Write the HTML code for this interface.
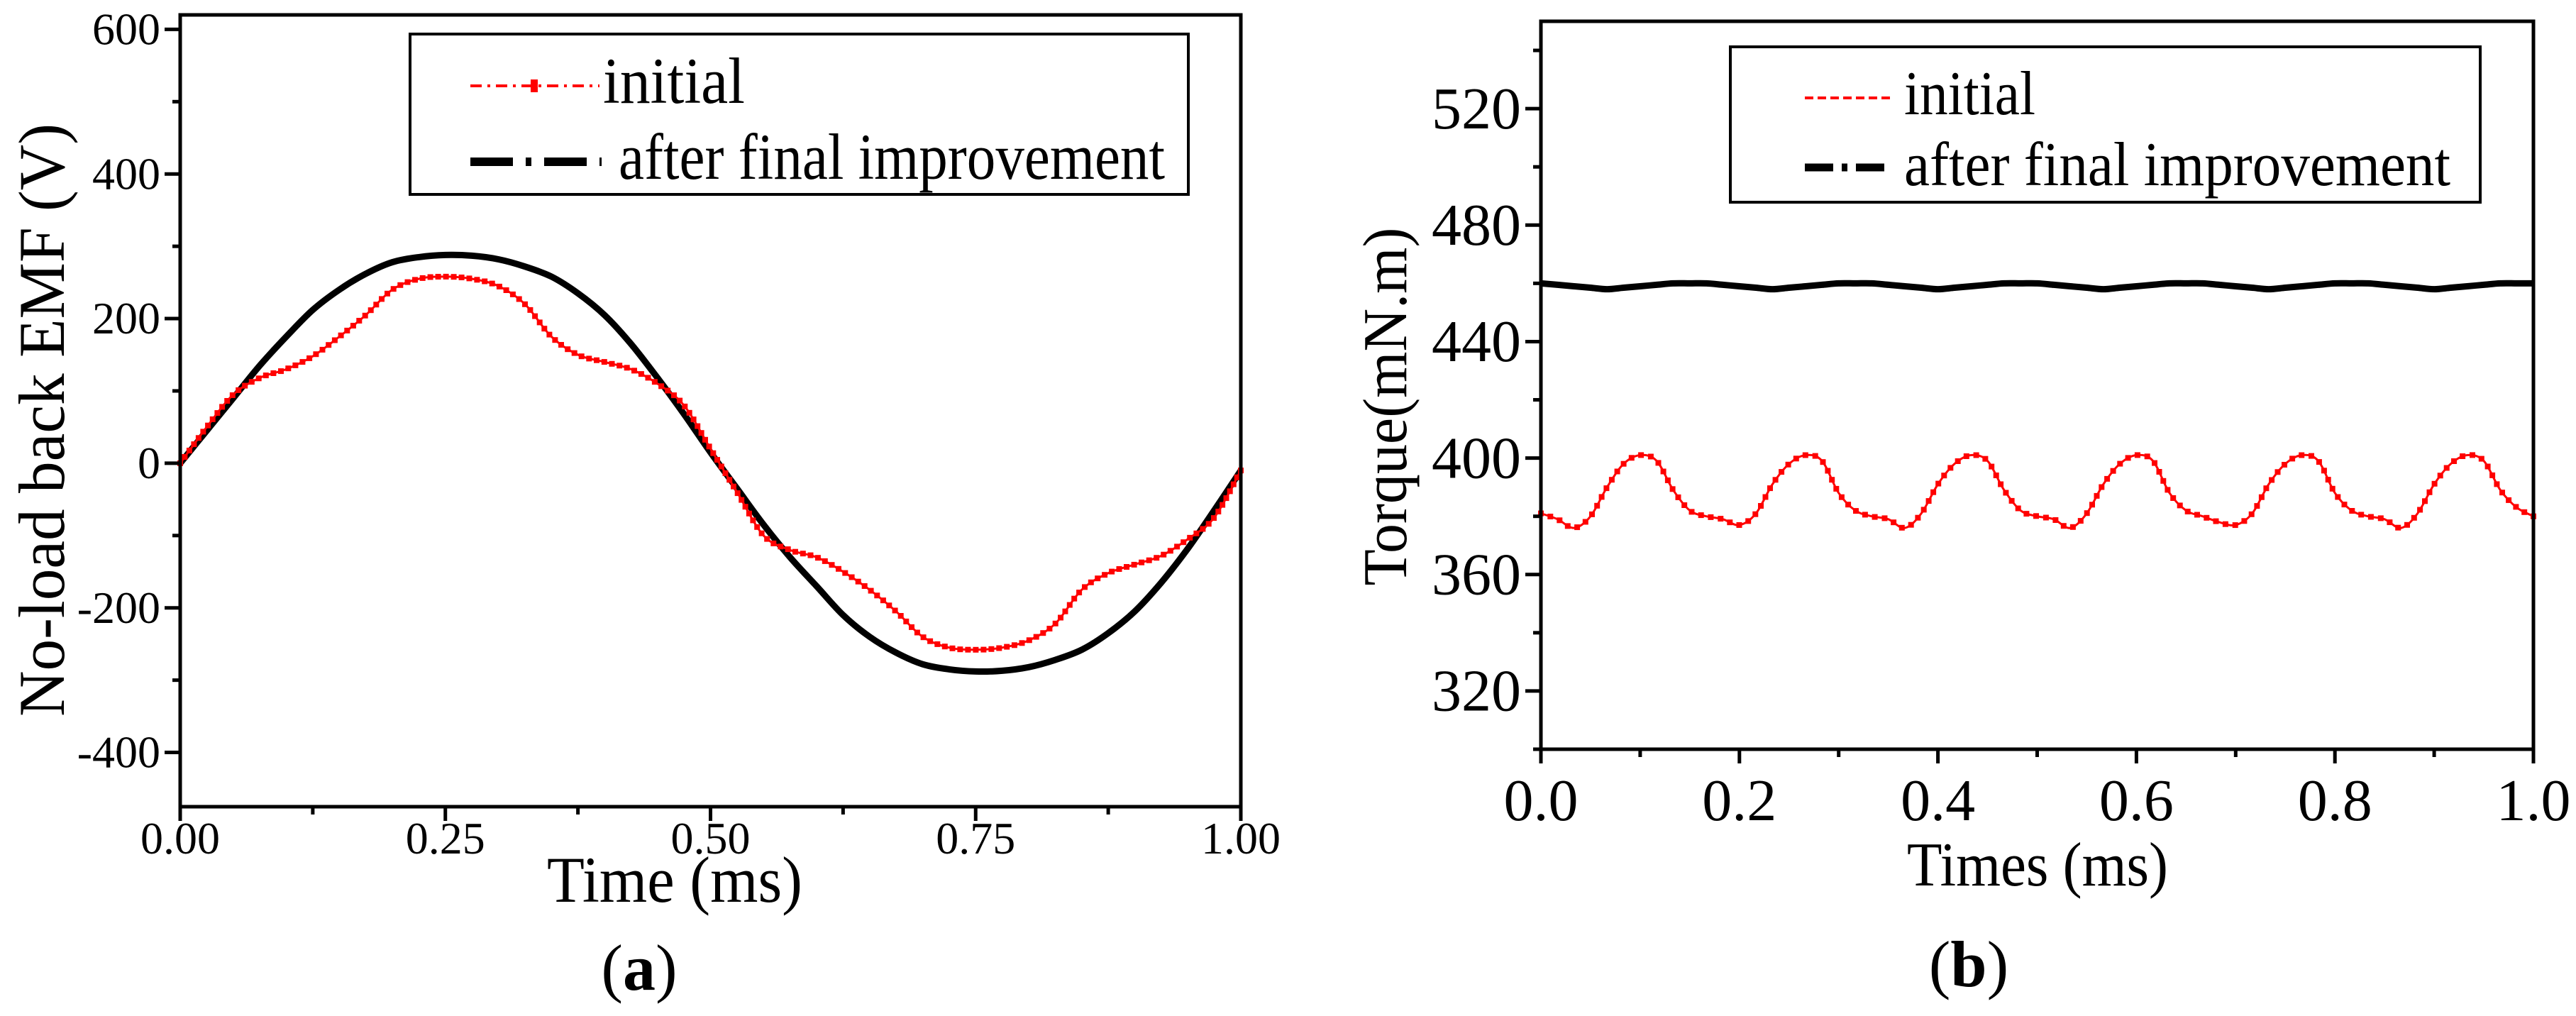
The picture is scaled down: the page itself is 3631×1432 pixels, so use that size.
<!DOCTYPE html>
<html><head><meta charset="utf-8"><style>
html,body{margin:0;padding:0;background:#fff}
svg{display:block}
svg text{font-family:"Liberation Serif","Times New Roman",serif;fill:#000}
</style></head><body>
<svg id="fig" width="3631" height="1432" viewBox="0 0 3631 1432" xmlns="http://www.w3.org/2000/svg" font-family="Liberation Serif, serif">
<g id="ga"></g>
<g id="gb"></g>
</svg>
<script>
// ---- Chart (a) data ----
const aTimes = [0,0.025,0.05,0.075,0.1,0.125,0.15,0.175,0.2,0.225,0.25,0.275,0.3,0.325,0.35,0.375,0.4,0.425,0.45,0.475,0.5,0.525,0.55,0.575,0.6,0.625,0.65,0.675,0.7,0.725,0.75,0.775,0.8,0.825,0.85,0.875,0.9,0.925,0.95,0.975,1.0];
const aInitial = [0,50,95,118,130,148,175,205,240,255,258,255,245,220,175,150,140,130,110,80,20,-40,-100,-120,-130,-150,-175,-205,-240,-255,-258,-255,-245,-222,-175,-152,-140,-128,-105,-75,-10];
const aImproved = [0,45,90,135,175,212,240,262,278,285,288,287,282,272,258,235,205,165,118,68,15,-35,-85,-130,-170,-210,-240,-262,-278,-285,-288,-287,-282,-272,-258,-235,-205,-165,-118,-65,-10];
const aXTicks = [0,0.25,0.5,0.75,1.0];
const aXLabels = ["0.00","0.25","0.50","0.75","1.00"];
const aYTicks = [-400,-200,0,200,400,600];
const aYLabels = ["-400","-200","0","200","400","600"];
// ---- Chart (b) data ----
const bTimes = [0,0.0167,0.0333,0.05,0.0667,0.0833,0.1,0.1167,0.1333,0.15,0.1667,0.1833,0.2,0.2167,0.2333,0.25,0.2667,0.2833,0.3,0.3167,0.3333,0.35,0.3667,0.3833,0.4,0.4167,0.4333,0.45,0.4667,0.4833,0.5,0.5167,0.5333,0.55,0.5667,0.5833,0.6,0.6167,0.6333,0.65,0.6667,0.6833,0.7,0.7167,0.7333,0.75,0.7667,0.7833,0.8,0.8167,0.8333,0.85,0.8667,0.8833,0.9,0.9167,0.9333,0.95,0.9667,0.9833,1.0];
const bInitial = [381,379,376,380,390,398,401,399,389,382,380,379,377,381,391,398,401,399,388,382,380,379,376,381,391,398,401,399,389,382,380,379,376,381,391,398,401,399,388,382,380,378,377,381,391,398,401,399,388,382,380,379,376,381,391,398,401,399,389,383,380];
const bImproved = [460,459.5,459,458.5,458,458.5,459,459.5,460,460,460,459.5,459,458.5,458,458.5,459,459.5,460,460,460,459.5,459,458.5,458,458.5,459,459.5,460,460,460,459.5,459,458.5,458,458.5,459,459.5,460,460,460,459.5,459,458.5,458,458.5,459,459.5,460,460,460,459.5,459,458.5,458,458.5,459,459.5,460,460,460];
const bXTicks = [0,0.2,0.4,0.6,0.8,1.0];
const bXLabels = ["0.0","0.2","0.4","0.6","0.8","1.0"];
const bYTicks = [320,360,400,440,480,520];
const bYLabels = ["320","360","400","440","480","520"];

const NS="http://www.w3.org/2000/svg";
const FF="Liberation Serif, Times New Roman, serif";
function mk(parent,tag,attrs,txt){const e=document.createElementNS(NS,tag);for(const k in attrs)e.setAttribute(k,attrs[k]);if(txt!==undefined)e.textContent=txt;parent.appendChild(e);return e;}
function smoothPath(pts){
  let d="M"+pts[0][0].toFixed(1)+","+pts[0][1].toFixed(1);
  for(let i=0;i<pts.length-1;i++){
    const p0=pts[Math.max(0,i-1)],p1=pts[i],p2=pts[i+1],p3=pts[Math.min(pts.length-1,i+2)];
    const c1x=p1[0]+(p2[0]-p0[0])/6,c1y=p1[1]+(p2[1]-p0[1])/6,c2x=p2[0]-(p3[0]-p1[0])/6,c2y=p2[1]-(p3[1]-p1[1])/6;
    d+=" C"+c1x.toFixed(1)+","+c1y.toFixed(1)+" "+c2x.toFixed(1)+","+c2y.toFixed(1)+" "+p2[0].toFixed(1)+","+p2[1].toFixed(1);
  }
  return d;
}

function drawChart(g,cfg){
  const X=v=>cfg.L+(v-cfg.x0)/(cfg.x1-cfg.x0)*(cfg.R-cfg.L);
  const Y=v=>cfg.B-(v-cfg.y0)/(cfg.y1-cfg.y0)*(cfg.B-cfg.T);
  const redPts=cfg.t.map((t,i)=>[X(t),Y(cfg.red[i])]);
  const blkPts=cfg.t2.map((t,i)=>[X(t),Y(cfg.black[i])]);
  const bl=mk(g,"path",{d:smoothPath(blkPts),fill:"none",stroke:"#000","stroke-width":9,"stroke-linejoin":"round"});
  
  
  const rl=mk(g,"path",{d:smoothPath(redPts),fill:"none",stroke:"#f00","stroke-width":3});
  
  
  const mg=mk(g,"g",{fill:"#f00"});
  
  
  const len=rl.getTotalLength(); const n=Math.round(len/cfg.mstep);
  for(let i=0;i<=n;i++){const p=rl.getPointAtLength(len*i/n);
    const m=mk(mg,"rect",{x:(p.x-4).toFixed(1),y:(p.y-4).toFixed(1),width:8,height:8});
    
    
  }
  const fr=mk(g,"rect",{x:cfg.L,y:cfg.T,width:cfg.R-cfg.L,height:cfg.B-cfg.T,fill:"none",stroke:"#000","stroke-width":5});
  
  
  cfg.xt.forEach((v,i)=>{
    const x=X(v);
    const tk=mk(g,"line",{x1:x,x2:x,y1:cfg.B,y2:cfg.B+20,stroke:"#000","stroke-width":5});
    
    
    const lb=mk(g,"text",{x:x,y:cfg.xlY,"text-anchor":"middle","font-size":cfg.tfs,"font-family":FF},cfg.xl[i]);
    
    
    if(i<cfg.xt.length-1){const mx=X((v+cfg.xt[i+1])/2);
      const mt=mk(g,"line",{x1:mx,x2:mx,y1:cfg.B,y2:cfg.B+11,stroke:"#000","stroke-width":5});
      
      }
  });
  const ystep=cfg.yt[1]-cfg.yt[0];
  cfg.yt.forEach((v,i)=>{
    const y=Y(v);
    const tk=mk(g,"line",{x1:cfg.L-22,x2:cfg.L,y1:y,y2:y,stroke:"#000","stroke-width":5});
    
    
    const lb=mk(g,"text",{x:cfg.L-28,y:y+cfg.tfs*0.33,"text-anchor":"end","font-size":cfg.tfs,"font-family":FF},cfg.yl[i]);
    
    
  });
  for(let v=cfg.yt[0]-ystep/2;v<=cfg.y1;v+=ystep){ if(v<cfg.y0)continue; const y=Y(v);
    const mt=mk(g,"line",{x1:cfg.L-11,x2:cfg.L,y1:y,y2:y,stroke:"#000","stroke-width":5});
    
    }
}

const ga=document.getElementById('ga');
drawChart(ga,{L:254,R:1749,T:21,B:1137,x0:0,x1:1,y0:-475,y1:620,t:aTimes,red:aInitial,t2:aTimes,black:aImproved,xt:aXTicks,xl:aXLabels,yt:aYTicks,yl:aYLabels,tfs:64,xlY:1203,mstep:11});
const gb=document.getElementById('gb');
drawChart(gb,{L:2172,R:3571,T:30,B:1056,x0:0,x1:1,y0:300,y1:550,t:bTimes,red:bInitial,t2:bTimes,black:bImproved,xt:bXTicks,xl:bXLabels,yt:bYTicks,yl:bYLabels,tfs:84,xlY:1156,mstep:14});
</script>
<svg style="position:absolute;left:0;top:0" width="3631" height="1432" viewBox="0 0 3631 1432" xmlns="http://www.w3.org/2000/svg" font-family="Liberation Serif, serif">
<g>
<rect x="578" y="48" width="1097" height="226" fill="#fff" stroke="#000" stroke-width="4"/>
<line x1="663" y1="121" x2="845" y2="121" stroke="#f00" stroke-width="4" stroke-dasharray="16,8,4,8"/>
<rect x="748" y="112" width="10" height="18" fill="#f00"/>
<text x="850" y="145" font-size="92" font-family="Liberation Serif, serif" textLength="200" lengthAdjust="spacingAndGlyphs">initial</text>
<line x1="663" y1="228" x2="848" y2="228" stroke="#000" stroke-width="12" stroke-dasharray="60,18,8,18"/>
<text x="872" y="252" font-size="92" font-family="Liberation Serif, serif" textLength="770" lengthAdjust="spacingAndGlyphs">after final improvement</text>
</g>
<g>
<rect x="2439" y="66" width="1057" height="219" fill="#fff" stroke="#000" stroke-width="4"/>
<line x1="2544" y1="138" x2="2664" y2="138" stroke="#f00" stroke-width="4" stroke-dasharray="12,6"/>
<text x="2684" y="161" font-size="88" font-family="Liberation Serif, serif" textLength="185" lengthAdjust="spacingAndGlyphs">initial</text>
<line x1="2544" y1="236" x2="2666" y2="236" stroke="#000" stroke-width="11" stroke-dasharray="40,12,8,12"/>
<text x="2684" y="261" font-size="88" font-family="Liberation Serif, serif" textLength="770" lengthAdjust="spacingAndGlyphs">after final improvement</text>
</g>
<text transform="translate(90,592) rotate(-90)" text-anchor="middle" font-size="92" font-family="Liberation Serif, serif" textLength="836" lengthAdjust="spacingAndGlyphs">No-load back EMF (V)</text>
<text x="951" y="1271" text-anchor="middle" font-size="92" font-family="Liberation Serif, serif" textLength="360" lengthAdjust="spacingAndGlyphs">Time (ms)</text>
<text x="901" y="1395" text-anchor="middle" font-size="92" font-family="Liberation Serif, serif">(<tspan font-weight="bold">a</tspan>)</text>
<text transform="translate(1982,573) rotate(-90)" text-anchor="middle" font-size="88" font-family="Liberation Serif, serif" textLength="505" lengthAdjust="spacingAndGlyphs">Torque(mN.m)</text>
<text x="2872" y="1248" text-anchor="middle" font-size="88" font-family="Liberation Serif, serif" textLength="368" lengthAdjust="spacingAndGlyphs">Times (ms)</text>
<text x="2775" y="1390" text-anchor="middle" font-size="92" font-family="Liberation Serif, serif">(<tspan font-weight="bold">b</tspan>)</text>
</svg>
</body></html>
